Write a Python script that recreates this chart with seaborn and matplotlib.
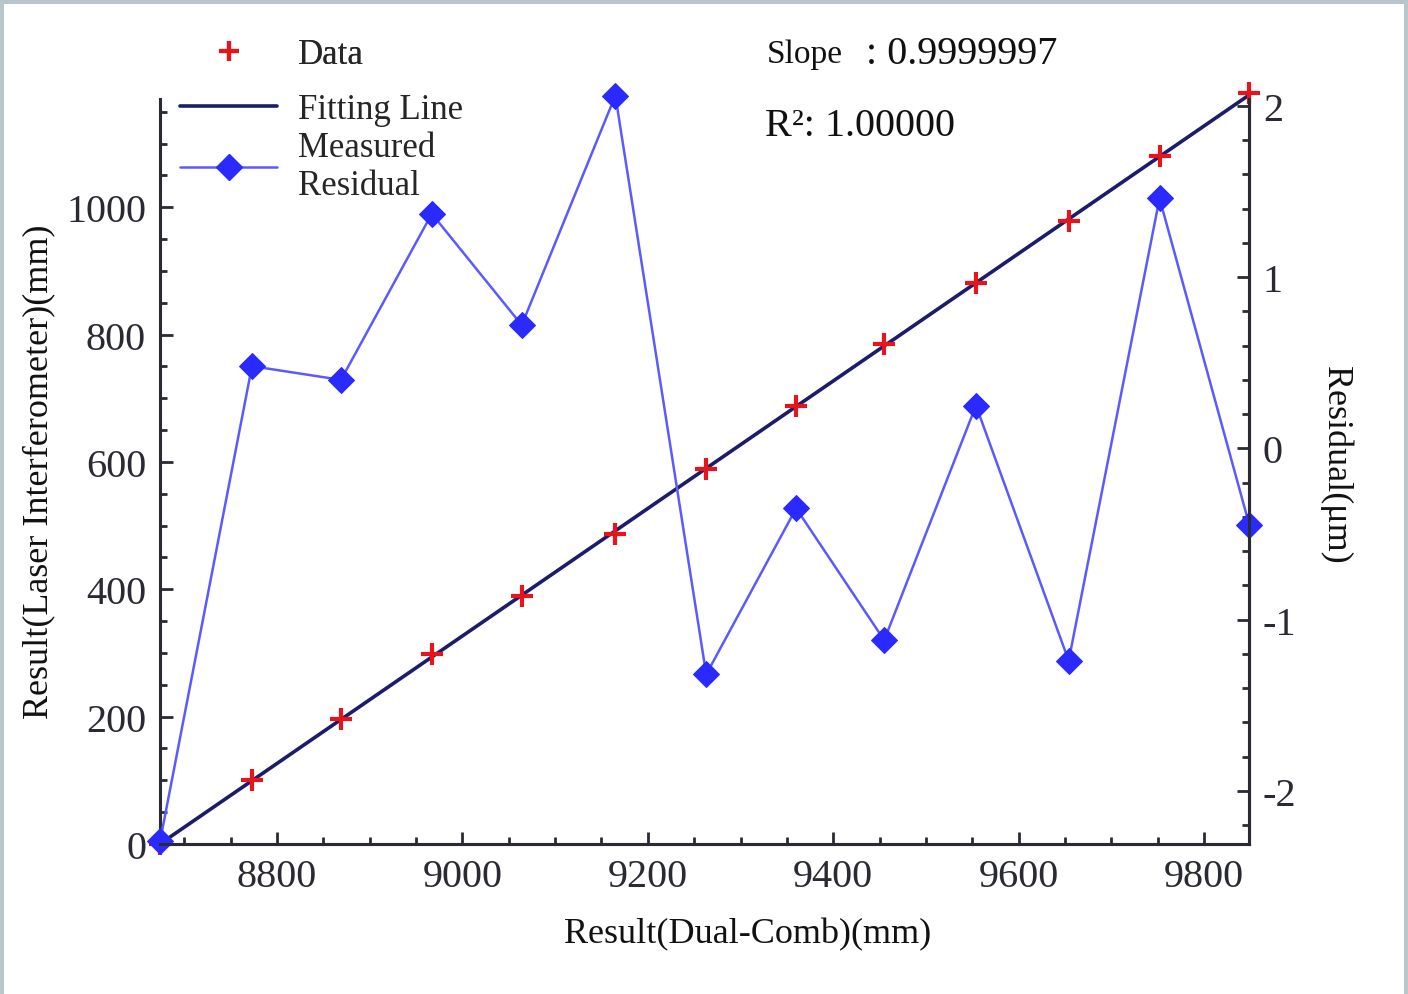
import numpy as np
import matplotlib
matplotlib.use("Agg")
import matplotlib.pyplot as plt
import seaborn as sns
from matplotlib.lines import Line2D
from matplotlib.patches import Rectangle
from matplotlib.ticker import MultipleLocator

# values
dual_comb = [8674, 8773, 8869, 8967, 9064, 9165, 9263, 9360, 9455, 9554, 9654, 9752, 9849]
laser = [0, 100, 196, 298, 389, 487, 589, 688, 785, 881, 978, 1080, 1179]
residual = [-2.29, 0.48, 0.40, 1.37, 0.72, 2.06, -1.32, -0.35, -1.12, 0.25, -1.24, 1.46, -0.45]

sns.set_theme(style="ticks")
plt.rcParams["font.family"] = ["Liberation Serif", "DejaVu Serif"]
plt.rcParams["axes.unicode_minus"] = False

fig = plt.figure(figsize=(14.08, 9.95), dpi=100)
fig.patch.set_facecolor("#b9c6cc")
fig.patches.append(Rectangle((4 / 1408, 0), 1400 / 1408, 990 / 995, transform=fig.transFigure,
                             facecolor="white", edgecolor="none", zorder=-10))

ax = fig.add_axes([160 / 1408, 1 - 845 / 995, 1089 / 1408, 745 / 995])
ax.patch.set_alpha(0)
ax2 = ax.twinx()

navy = "#1c1c6a"
red = "#e8141c"
blue = "#2a2aff"
lineblue = "#5a5aff"
ink = "#2a2a33"

# fitting line
k, b = np.polyfit(dual_comb, laser, 1)
fit = [k * x + b for x in dual_comb]
sns.lineplot(x=dual_comb, y=fit, ax=ax, color=navy, lw=2.6, zorder=3, clip_on=False)
sns.scatterplot(x=dual_comb, y=laser, ax=ax, marker="+", s=240, color=red,
                linewidth=3.0, zorder=4, clip_on=False)

sns.lineplot(x=dual_comb, y=residual, ax=ax2, color=lineblue, lw=1.8, clip_on=False,
             marker="D", markersize=13, markerfacecolor=blue, markeredgecolor=blue, zorder=2)

ax.set_xlim(8673.8, 9848.5)
ax.set_ylim(0, 1170)
ax2.set_ylim(-2.31, 2.04)

ax.xaxis.set_major_locator(MultipleLocator(200))
ax.xaxis.set_minor_locator(MultipleLocator(50))
ax.yaxis.set_major_locator(MultipleLocator(200))
ax.yaxis.set_minor_locator(MultipleLocator(50))
ax2.yaxis.set_major_locator(MultipleLocator(1))
ax2.yaxis.set_minor_locator(MultipleLocator(0.2))

for a in (ax, ax2):
    for s in a.spines.values():
        s.set_linewidth(2.2)
        s.set_color(ink)
    a.spines["top"].set_visible(False)
    a.tick_params(which="major", direction="in", length=9, width=2, color=ink,
                  labelsize=29, labelcolor=ink, pad=10)
    a.tick_params(which="minor", direction="in", length=5, width=2, color=ink)
ax2.spines["left"].set_visible(False)
ax2.grid(False)
ax.grid(False)

ax.set_xlabel("Result(Dual-Comb)(mm)", fontsize=26, color="#111")
ax.xaxis.set_label_coords((748 - 160) / 1089, -(918 - 845) / 745)
ax.set_ylabel("Result(Laser Interferometer)(mm)", fontsize=26, color="#111")
ax.yaxis.set_label_coords(-(160 - 55) / 1089, (845 - 472) / 745)
ax2.set_ylabel("Residual(μm)", fontsize=26, color="#111", rotation=270, va="center")
ax2.yaxis.set_label_coords((1336 - 160) / 1089, (845 - 465) / 745)

lg1 = fig.legend([Line2D([], [], ls="none", marker="+", markersize=14, markeredgewidth=3.0, color=red)],
                 ["Data"], loc="center left", bbox_to_anchor=(149 / 1408, 1 - 56 / 995),
                 frameon=False, fontsize=25, handlelength=2.8, handletextpad=0.6)
fig.legend([Line2D([], [], color=navy, lw=2.6),
            Line2D([], [], color=lineblue, lw=1.8, marker="D", markersize=13,
                   markerfacecolor=blue, markeredgecolor=blue)],
           ["Fitting Line", "Measured\nResidual"], loc="upper left",
           bbox_to_anchor=(149 / 1408, 1 - 63 / 995), frameon=False, fontsize=25,
           handlelength=2.8, handletextpad=0.6, labelspacing=0.15)
fig.add_artist(lg1)

fig.text(767 / 1408, 1 - 55 / 995, "Slope", fontsize=24, va="center", color="#111")
fig.text(866 / 1408, 1 - 55 / 995, ": 0.9999997", fontsize=29, va="center", color="#111")
fig.text(765 / 1408, 1 - 127 / 995, "R²: 1.00000", fontsize=29, va="center", color="#111")

fig.savefig("out.png", dpi=100)
